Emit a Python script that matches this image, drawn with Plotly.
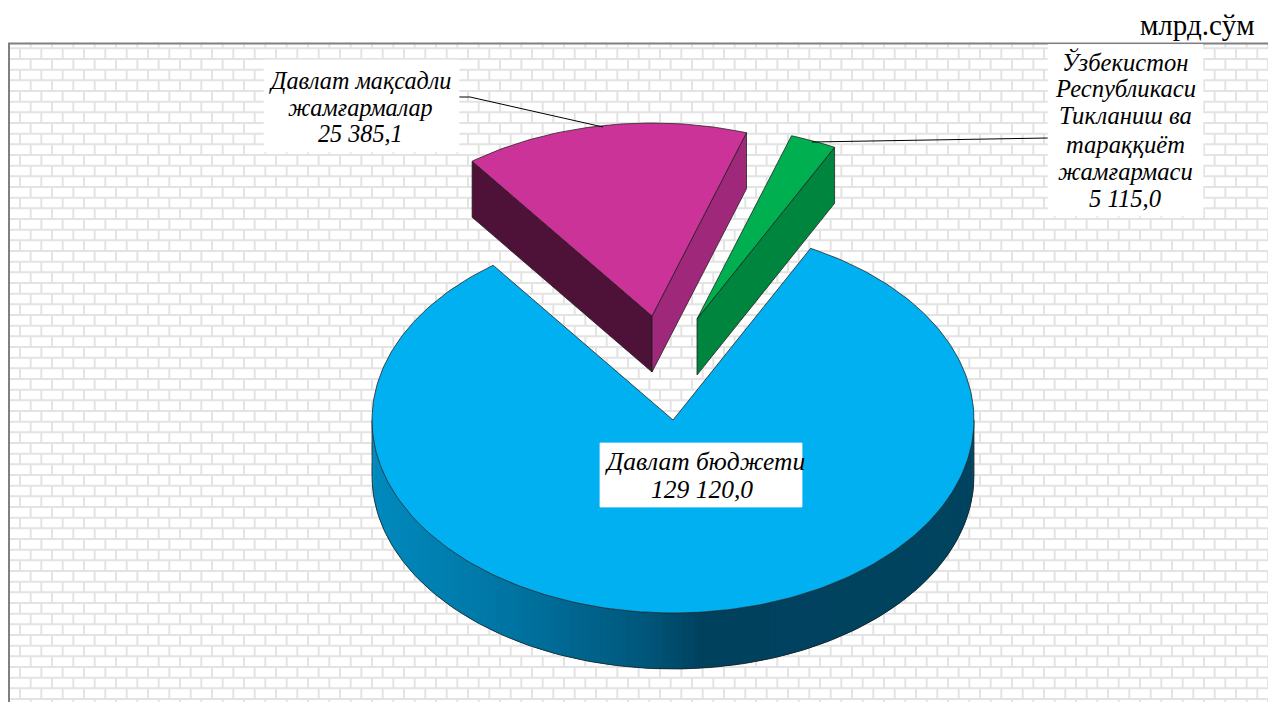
import math
import plotly.graph_objects as go

# ---- data ----
slice_names = ["Давлат бюджети", "Давлат мақсадли жамғармалар",
               "Ўзбекистон Республикаси Тикланиш ва тараққиёт жамғармаси"]
slice_values = [129120.0, 25385.1, 5115.0]
# drawn sweep of each slice, measured on the picture (the 3-D view compresses the small slices)
slice_sweep_deg = [296.1, 55.0, 8.9]
unit_label = "млрд.сўм"

def fmt(v):
    s = f"{v:,.1f}".replace(",", " ").replace(".", ",")
    return s

label_lines = [["Давлат бюджети", fmt(slice_values[0])],
               ["Давлат мақсадли", "жамғармалар", fmt(slice_values[1])],
               ["Ўзбекистон", "Республикаси", "Тикланиш ва", "тараққиёт", "жамғармаси", fmt(slice_values[2])]]

# ---- view ----
W, H = 1268, 702
RX, RY, DEPTH = 301.0, 193.0, 56.0
START = 27.2                         # screen angle (deg, clockwise from north) of first slice
ANCHORS = [(673, 420), (652, 316), (697, 319)]
TOP = ["#00B0F0", "#CC3399", "#00B050"]
EDGE = "#1c1c1c"
FONT = "Liberation Serif"

def proj(anchor, deg, lift=0.0, r=1.0):
    a = math.radians(deg)
    return anchor[0] + RX * r * math.sin(a), anchor[1] - RY * r * math.cos(a) + lift

def arc(anchor, a0, a1, lift=0.0, step=1.0):
    n = max(2, int(abs(a1 - a0) / step) + 1)
    return [proj(anchor, a0 + (a1 - a0) * i / (n - 1), lift) for i in range(n)]

fig = go.Figure()

def poly(pts, fill, line=None, width=0.75):
    xs = [p[0] for p in pts] + [pts[0][0]]
    ys = [p[1] for p in pts] + [pts[0][1]]
    fig.add_trace(go.Scatter(x=xs, y=ys, mode="lines", fill="toself", fillcolor=fill,
                             line=dict(color=line or fill, width=width),
                             hoverinfo="skip", showlegend=False))

def path(pts, color=EDGE, width=0.75):
    fig.add_trace(go.Scatter(x=[p[0] for p in pts], y=[p[1] for p in pts], mode="lines",
                             line=dict(color=color, width=width), hoverinfo="skip", showlegend=False))

# ---- brick wallpaper ----
BX, BY = 64 / 3, 32 / 3
FX, FY = 9.5, 43.5
bx, by = [], []
row = 0
y = FY + 4.8 - BY
while y < H + BY:
    if y > FY:
        bx += [FX, W, None]
        by += [y, y, None]
    off = 20 if row % 2 == 1 else 20 + BX / 2
    x = off - BX
    while x < W:
        if x > FX:
            bx += [x, x, None]
            by += [max(y, FY), y + BY, None]
        x += BX
    y += BY
    row += 1
fig.add_trace(go.Scatter(x=bx, y=by, mode="lines", line=dict(color="#E3E3E3", width=2),
                         hoverinfo="skip", showlegend=False))
path([(9, H + 2), (9, 43.5), (W + 2, 43.5)], color="#808080", width=2)

# ---- slice angles ----
angles = []
a = START
for s in slice_sweep_deg:
    angles.append((a, a + s))
    a += s
m0, m1 = angles[0]
p0, p1 = angles[1]
g0, g1 = angles[2]

# ---- main slice: side wall with horizontal gradient ----
STOPS = [(372, (0, 138, 190)), (500, (0, 118, 165)), (640, (0, 88, 125)),
         (702, (0, 65, 94)), (974, (0, 68, 96))]
def wall_color(x):
    for (x0, c0), (x1, c1) in zip(STOPS, STOPS[1:]):
        if x <= x1:
            t = max(0.0, (x - x0) / (x1 - x0))
            return "rgb(%d,%d,%d)" % tuple(round(c0[i] + (c1[i] - c0[i]) * t) for i in range(3))
    return "rgb(0,68,96)"

c = ANCHORS[0]
N = 180
for i in range(N):
    d0 = 90 + 180 * i / N
    d1 = min(270, 90 + 180 * (i + 2) / N)      # overlaps the next strip so no seam shows
    pa = proj(c, d0)
    pb = proj(c, 90 + 180 * (i + 1) / N)
    pe = proj(c, d1)
    poly([pa, pe, proj(c, d1, DEPTH), proj(c, d0, DEPTH)], wall_color((pa[0] + pb[0]) / 2), width=0)
path(arc(c, 90, 270, DEPTH), width=0.75)
path([proj(c, 90), proj(c, 90, DEPTH)])
path([proj(c, 270), proj(c, 270, DEPTH)])
poly([c] + arc(c, m0, m1), TOP[0], EDGE)

# ---- magenta slice ----
c = ANCHORS[1]
pl, pr = proj(c, p0), proj(c, p1)
poly([c, pl, (pl[0], pl[1] + DEPTH), (c[0], c[1] + DEPTH)], "#4E1238", EDGE)
poly([c, pr, (pr[0], pr[1] + DEPTH), (c[0], c[1] + DEPTH)], "#A0287A", EDGE)
poly([c] + arc(c, p0, p1), TOP[1], EDGE)

# ---- green slice ----
c = ANCHORS[2]
gl, gr = proj(c, g0), proj(c, g1)
poly([c, gr, (gr[0], gr[1] + DEPTH), (c[0], c[1] + DEPTH)], "#00853E", EDGE)
poly([c] + arc(c, g0, g1), TOP[2], EDGE)

# ---- leader lines ----
path([(459, 97), (470, 97), (603, 127)], color="#000000", width=1)
path([(812, 142), (1048, 138)], color="#000000", width=1)

# ---- label boxes and text ----
poly([(600, 443), (802, 443), (802, 507), (600, 507)], "#FFFFFF")
poly([(264, 60), (459, 60), (459, 152), (264, 152)], "#FFFFFF")
poly([(1048, 44.5), (1203, 44.5), (1203, 216), (1048, 216)], "#FFFFFF")

ann = []
def text_lines(lines, cxs, ys, size):
    for t, cx, yy in zip(lines, cxs, ys):
        ann.append(dict(x=cx, y=yy, text=t, showarrow=False, xanchor="center", yanchor="middle",
                        font=dict(family=FONT, size=size, color="#000000", style="italic")))

text_lines(label_lines[0], [705, 702], [461.5, 489], 25.5)
text_lines(label_lines[1], [360] * 3, [80, 107, 133], 24.2)
text_lines(label_lines[2], [1125] * 6, [62, 88, 115, 144, 171, 198], 24.6)
ann.append(dict(x=1257, y=25, text=unit_label, showarrow=False, xanchor="right", yanchor="middle",
                font=dict(family=FONT, size=29, color="#000000")))

fig.update_layout(
    width=W, height=H, margin=dict(l=0, r=0, t=0, b=0),
    paper_bgcolor="#FFFFFF", plot_bgcolor="#FFFFFF",
    xaxis=dict(range=[0, W], visible=False, fixedrange=True),
    yaxis=dict(range=[H, 0], visible=False, fixedrange=True),
    showlegend=False, annotations=ann,
)
fig.write_html("out.html", config=dict(displayModeBar=False),
               post_script="document.body.style.margin='0';document.body.style.overflow='hidden';")
